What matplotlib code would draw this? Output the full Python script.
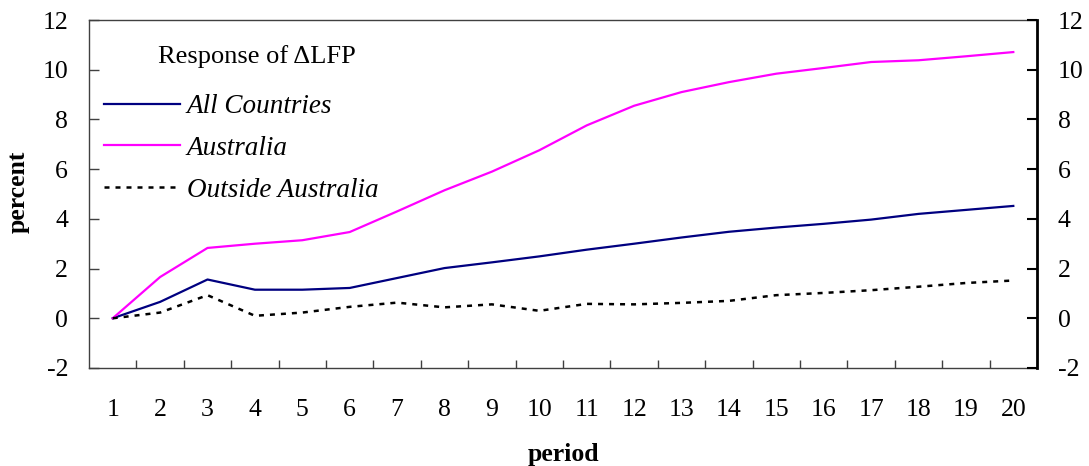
import matplotlib
matplotlib.use("Agg")
import matplotlib.pyplot as plt
import numpy as np

periods = list(range(1, 21))
all_countries = [0.0, 0.66, 1.56, 1.15, 1.15, 1.22, 1.62, 2.02, 2.25, 2.49, 2.76, 3.0, 3.25, 3.48, 3.65, 3.8, 3.97, 4.2, 4.36, 4.52]
australia = [0.0, 1.66, 2.83, 3.0, 3.14, 3.47, 4.3, 5.15, 5.9, 6.76, 7.76, 8.55, 9.1, 9.5, 9.84, 10.07, 10.31, 10.38, 10.54, 10.71]
outside = [0.0, 0.23, 0.93, 0.1, 0.23, 0.46, 0.63, 0.44, 0.56, 0.3, 0.58, 0.56, 0.62, 0.7, 0.93, 1.02, 1.13, 1.27, 1.42, 1.52]
yticks = [-2, 0, 2, 4, 6, 8, 10, 12]

plt.rcParams['font.family'] = ['Liberation Serif', 'DejaVu Serif']

W, H = 1089, 466
fig = plt.figure(figsize=(W / 100, H / 100), dpi=100)
ax = fig.add_axes([89 / W, (H - 368) / H, (1037 - 89) / W, (368 - 20) / H])

x = np.arange(1, 21)
ax.plot(x, all_countries, color='#000080', lw=1.6, label='All Countries')
ax.plot(x, australia, color='#FF00FF', lw=1.6, label='Australia')
ax.plot(x, outside, color='black', lw=1.8, linestyle=(0, (2.0, 2.4)), label='Outside Australia')

ax.set_xlim(0.5, 20.5)
ax.set_ylim(-2, 12)
ax.set_yticks(yticks)
ax.set_yticklabels([str(v) for v in yticks])
ax.set_xticks(x)
ax.set_xticklabels([str(p) for p in periods])
ax.set_xticks(np.arange(1.5, 20.5, 1), minor=True)
ax.tick_params(axis='x', which='major', length=0, pad=22, labelsize=18.5)
ax.tick_params(axis='x', which='minor', direction='in', length=6, width=1, color='#404040')
ax.tick_params(axis='y', direction='in', length=7, width=1, color='#404040', pad=15, labelsize=18.5)

for s in ['left', 'top', 'bottom']:
    ax.spines[s].set_color('#404040')
    ax.spines[s].set_linewidth(1)
ax.spines['right'].set_visible(False)

ax2 = ax.twinx()
ax2.set_ylim(-2, 12)
ax2.set_yticks(yticks)
ax2.set_yticklabels([str(v) for v in yticks])
ax2.tick_params(axis='y', direction='in', length=7, width=1.5, color='black', pad=15, labelsize=18.5)
for s in ['left', 'top', 'bottom']:
    ax2.spines[s].set_visible(False)
ax2.spines['right'].set_linewidth(2)
ax2.spines['right'].set_color('black')

fig.text(18 / W, 1 - 192 / H, 'percent', rotation=90, fontsize=18.5, fontweight='bold', ha='center', va='center')
fig.text(563 / W, 1 - 454 / H, 'period', fontsize=18.5, fontweight='bold', ha='center', va='center')

fig.text(158 / W, 1 - 57 / H, 'Response of \u0394LFP', fontsize=19, ha='left', va='center')
leg = ax.legend(loc='upper left', bbox_to_anchor=(104 / W, 1 - 94 / H), bbox_transform=fig.transFigure,
                frameon=False, prop={'style': 'italic', 'size': 19.5}, handlelength=2.8,
                handletextpad=0.25, labelspacing=0.62, borderpad=0, borderaxespad=0)

fig.savefig('out.png', dpi=100)
